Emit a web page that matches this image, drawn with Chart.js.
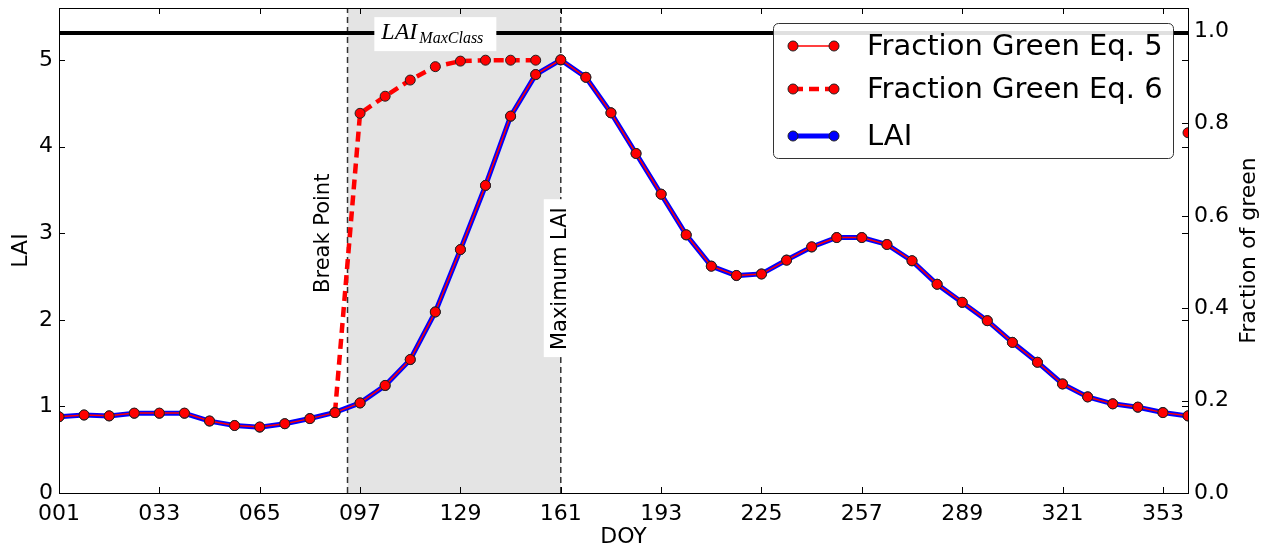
<!DOCTYPE html>
<html>
<head>
<meta charset="utf-8">
<script src="https://cdn.jsdelivr.net/npm/chart.js@4.4.1/dist/chart.umd.min.js"></script>
<style>
  html, body { margin: 0; padding: 0; background: #fff; }
</style>
</head>
<body>
<canvas id="laiChart" width="1266" height="550"></canvas>
<script>
// day of year of each composite
var doy = [1, 9, 17, 25, 33, 41, 49, 57, 65, 73, 81, 89, 97, 105, 113, 121,
  129, 137, 145, 153, 161, 169, 177, 185, 193, 201, 209, 217, 225, 233, 241,
  249, 257, 265, 273, 281, 289, 297, 305, 313, 321, 329, 337, 345, 353, 361];

// LAI (left axis)
var lai = [0.88, 0.90, 0.89, 0.92, 0.92, 0.92, 0.83, 0.78, 0.76, 0.80, 0.86, 0.93,
  1.04, 1.24, 1.54, 2.09, 2.81, 3.55, 4.35, 4.83, 5.00, 4.80, 4.39, 3.92, 3.45,
  2.98, 2.62, 2.51, 2.53, 2.69, 2.84, 2.95, 2.95, 2.87, 2.68, 2.41, 2.20, 1.99,
  1.74, 1.51, 1.26, 1.11, 1.03, 0.99, 0.93, 0.89];

// fraction of green, eq. 5 (right axis)
var fgEq5 = [0.165, 0.169, 0.167, 0.173, 0.173, 0.173, 0.156, 0.146, 0.143, 0.150,
  0.161, 0.174, 0.195, 0.233, 0.289, 0.392, 0.527, 0.666, 0.816, 0.906, 0.938,
  0.900, 0.823, 0.735, 0.647, 0.559, 0.491, 0.471, 0.474, 0.504, 0.533, 0.553,
  0.553, 0.538, 0.503, 0.452, 0.413, 0.373, 0.326, 0.283, 0.236, 0.208, 0.193,
  0.186, 0.174, 0.167];

// fraction of green, eq. 6 (right axis)
var fgEq6 = [null, null, null, null, null, null, null, null, null, null, null, 0.174,
  0.822, 0.859, 0.894, 0.923, 0.935, 0.937, 0.937, 0.937, null, null, null, null,
  null, null, null, null, null, null, null, null, null, null, null, null, null,
  null, null, null, null, null, null, null, null, 0.780];

var xTicks = [1, 33, 65, 97, 129, 161, 193, 225, 257, 289, 321, 353];
var laiTicks = [0, 1, 2, 3, 4, 5];
var fracTicks = [0, 0.2, 0.4, 0.6, 0.8, 1.0];

var breakPoint = 93;
var maxLaiDoy = 161;
var laiMaxClass = 5.31;

var FONT = "'DejaVu Sans', sans-serif";

function pairs(vals) {
  return doy.map(function(d, i) { return { x: d, y: vals[i] }; });
}

function dot(ctx, x, y, fill) {
  ctx.beginPath();
  ctx.arc(x, y, 5, 0, Math.PI * 2);
  ctx.fillStyle = fill;
  ctx.fill();
  ctx.lineWidth = 1;
  ctx.strokeStyle = '#222';
  ctx.stroke();
}

function noPad(s) {
  s.paddingTop = 0;
  s.paddingBottom = 0;
}

var decor = {
  id: 'decor',
  beforeDatasetsDraw: function(chart) {
    var ctx = chart.ctx, a = chart.chartArea;
    var sx = chart.scales.x, sy = chart.scales.y;
    var x0 = sx.getPixelForValue(breakPoint), x1 = sx.getPixelForValue(maxLaiDoy);
    ctx.save();
    ctx.fillStyle = '#e4e4e4';
    ctx.fillRect(x0, a.top, x1 - x0, a.bottom - a.top);

    ctx.strokeStyle = '#333';
    ctx.lineWidth = 1.5;
    ctx.setLineDash([6, 4]);
    [x0, x1].forEach(function(px) {
      ctx.beginPath();
      ctx.moveTo(px, a.bottom);
      ctx.lineTo(px, a.top);
      ctx.stroke();
    });
    ctx.setLineDash([]);

    // LAI max class line + label
    var ym = sy.getPixelForValue(laiMaxClass);
    ctx.strokeStyle = '#000';
    ctx.lineWidth = 4;
    ctx.beginPath();
    ctx.moveTo(a.left, ym);
    ctx.lineTo(a.right, ym);
    ctx.stroke();

    var lx = sx.getPixelForValue(121);
    ctx.fillStyle = '#fff';
    ctx.fillRect(lx - 61, ym - 16, 122, 34);
    ctx.fillStyle = '#000';
    ctx.textBaseline = 'alphabetic';
    ctx.textAlign = 'left';
    ctx.font = "italic 24px 'Liberation Serif', serif";
    var lw = ctx.measureText('LAI').width;
    ctx.fillText('LAI', lx - 54, ym + 6);
    ctx.font = "italic 16px 'Liberation Serif', serif";
    ctx.fillText('MaxClass', lx - 54 + lw + 2, ym + 10);

    // Break Point text
    ctx.font = '21px ' + FONT;
    ctx.save();
    ctx.translate(x0 - 19, sy.getPixelForValue(2.31));
    ctx.rotate(-Math.PI / 2);
    ctx.fillText('Break Point', 0, 0);
    ctx.restore();

    // Maximum LAI text on white box
    var txt = 'Maximum LAI';
    var w = ctx.measureText(txt).width;
    var bx = x1 + 5.7, by = sy.getPixelForValue(1.65);
    ctx.fillStyle = '#fff';
    ctx.fillRect(bx - 22.7, by - w - 8, 30, w + 15);
    ctx.fillStyle = '#000';
    ctx.save();
    ctx.translate(bx, by);
    ctx.rotate(-Math.PI / 2);
    ctx.fillText(txt, 0, 0);
    ctx.restore();
    ctx.restore();
  },
  afterDatasetsDraw: function(chart) {
    var ctx = chart.ctx, a = chart.chartArea;
    var sx = chart.scales.x, sy = chart.scales.y, sy1 = chart.scales.y1;
    ctx.save();
    ctx.strokeStyle = '#000';
    ctx.lineWidth = 1;
    ctx.beginPath();
    xTicks.forEach(function(v) {
      var px = Math.round(sx.getPixelForValue(v)) + 0.5;
      ctx.moveTo(px, a.bottom); ctx.lineTo(px, a.bottom - 6);
      ctx.moveTo(px, a.top); ctx.lineTo(px, a.top + 6);
    });
    laiTicks.forEach(function(v) {
      var py = Math.round(sy.getPixelForValue(v)) + 0.5;
      ctx.moveTo(a.left, py); ctx.lineTo(a.left + 6, py);
      ctx.moveTo(a.right, py); ctx.lineTo(a.right - 6, py);
    });
    fracTicks.forEach(function(v) {
      var py = Math.round(sy1.getPixelForValue(v)) + 0.5;
      ctx.moveTo(a.right, py); ctx.lineTo(a.right - 6, py);
    });
    ctx.stroke();
    ctx.strokeRect(Math.round(a.left) + 0.5, Math.round(a.top) + 0.5,
      Math.round(a.right - a.left), Math.round(a.bottom - a.top));

    // right axis title, reading upward
    ctx.fillStyle = '#000';
    ctx.font = '22px ' + FONT;
    ctx.textAlign = 'center';
    ctx.textBaseline = 'alphabetic';
    ctx.translate(1255, (a.top + a.bottom) / 2);
    ctx.rotate(-Math.PI / 2);
    ctx.fillText('Fraction of green', 0, 0);
    ctx.restore();
  },
  afterDraw: function(chart) {
    var ctx = chart.ctx, a = chart.chartArea;
    var ds = chart.data.datasets;
    var right = a.right - 15, top = a.top + 15, w = 400, h = 135;
    var left = right - w;
    ctx.save();
    ctx.beginPath();
    ctx.roundRect(left + 0.5, top + 0.5, w, h, 5);
    ctx.fillStyle = 'rgba(255,255,255,0.88)';
    ctx.fill();
    ctx.strokeStyle = '#333';
    ctx.lineWidth = 1;
    ctx.stroke();

    var rows = [top + 23, top + 66, top + 113];
    ds.forEach(function(d, i) {
      var ry = rows[i];
      var sx0 = left + 20, sx1 = left + 61;
      ctx.strokeStyle = d.borderColor;
      ctx.lineWidth = d.borderWidth;
      ctx.setLineDash(d.borderDash || []);
      ctx.beginPath();
      ctx.moveTo(sx0, ry);
      ctx.lineTo(sx1, ry);
      ctx.stroke();
      ctx.setLineDash([]);
      dot(ctx, sx0, ry, d.pointBackgroundColor);
      dot(ctx, sx1, ry, d.pointBackgroundColor);
      ctx.fillStyle = '#000';
      ctx.font = '29px ' + FONT;
      ctx.textAlign = 'left';
      ctx.textBaseline = 'middle';
      ctx.fillText(d.label, left + 94, ry + 1);
    });
    ctx.restore();
  }
};

var tickFont = { family: FONT, size: 22 };

new Chart(document.getElementById('laiChart').getContext('2d'), {
  type: 'line',
  data: {
    datasets: [{
      label: 'Fraction Green Eq. 5',
      data: pairs(fgEq5),
      yAxisID: 'y1',
      borderColor: '#ff0000',
      borderWidth: 1.5,
      pointRadius: 5,
      pointBackgroundColor: '#ff0000',
      pointBorderColor: '#222',
      pointBorderWidth: 1,
      clip: 0
    }, {
      label: 'Fraction Green Eq. 6',
      data: pairs(fgEq6),
      yAxisID: 'y1',
      borderColor: '#ff0000',
      borderWidth: 4.5,
      borderDash: [10, 6],
      pointRadius: 5,
      pointBackgroundColor: '#ff0000',
      pointBorderColor: '#222',
      pointBorderWidth: 1,
      clip: 0
    }, {
      label: 'LAI',
      data: pairs(lai),
      yAxisID: 'y',
      borderColor: '#0000ff',
      borderWidth: 5,
      pointRadius: 5,
      pointBackgroundColor: '#0000ff',
      pointBorderColor: '#222',
      pointBorderWidth: 1,
      clip: 0
    }]
  },
  options: {
    responsive: false,
    animation: false,
    devicePixelRatio: 1,
    layout: { padding: { top: 8, left: 0, right: 0, bottom: 0 } },
    plugins: { legend: { display: false }, tooltip: { enabled: false } },
    elements: { line: { tension: 0 } },
    scales: {
      x: {
        type: 'linear',
        min: 1,
        max: 361,
        afterBuildTicks: function(s) { s.ticks = xTicks.map(function(v) { return { value: v }; }); },
        afterFit: function(s) { s.height = 57; },
        grid: { display: false, drawTicks: false },
        border: { display: false },
        ticks: {
          autoSkip: false, maxRotation: 0, padding: 8, color: '#000', font: tickFont,
          callback: function(v) { return String(v).padStart(3, '0'); }
        },
        title: { display: true, text: 'DOY', color: '#000', font: tickFont, padding: { top: 0, bottom: 0 } }
      },
      y: {
        position: 'left',
        min: 0,
        max: 5.6,
        afterBuildTicks: function(s) { s.ticks = laiTicks.map(function(v) { return { value: v }; }); },
        afterFit: function(s) { s.width = 59; noPad(s); },
        grid: { display: false, drawTicks: false },
        border: { display: false },
        ticks: { padding: 6, color: '#000', font: tickFont },
        title: { display: true, text: 'LAI', color: '#000', font: tickFont, padding: { top: 8, bottom: 0 } }
      },
      y1: {
        position: 'right',
        min: 0,
        max: 1.05,
        afterBuildTicks: function(s) { s.ticks = fracTicks.map(function(v) { return { value: v }; }); },
        afterFit: function(s) { s.width = 78; noPad(s); },
        grid: { display: false, drawTicks: false },
        border: { display: false },
        ticks: {
          padding: 6, color: '#000', font: tickFont,
          callback: function(v) { return v.toFixed(1); }
        }
      }
    }
  },
  plugins: [decor]
});
</script>
</body>
</html>
